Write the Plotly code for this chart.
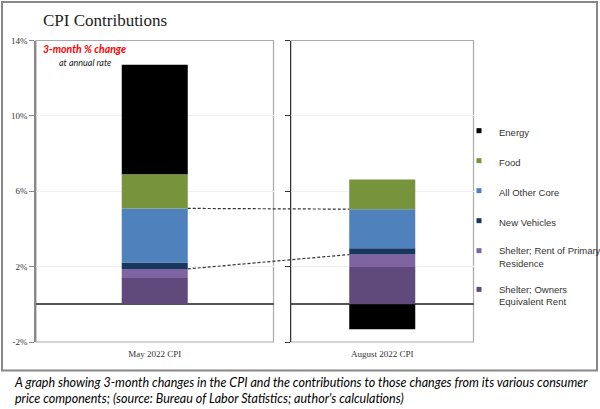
import plotly.graph_objects as go

# ---------------- data ----------------
periods = ["May 2022 CPI", "August 2022 CPI"]
components = [
    "Shelter; Owners Equivalent Rent",
    "Shelter; Rent of Primary Residence",
    "New Vehicles",
    "All Other Core",
    "Food",
    "Energy",
]
legend_labels = [
    "Shelter; Owners<br>Equivalent Rent",
    "Shelter; Rent of Primary<br>Residence",
    "New Vehicles",
    "All Other Core",
    "Food",
    "Energy",
]
colors = ["#604A7B", "#8064A2", "#17375E", "#4F81BD", "#77933C", "#000000"]
may_values = [1.40, 0.48, 0.34, 2.87, 1.81, 5.81]
aug_values = [1.98, 0.66, 0.34, 2.07, 1.58, -1.33]
y_ticks = [-2, 2, 6, 10, 14]
y_tick_labels = ["-2%", "2%", "6%", "10%", "14%"]
connect_idx = [1, 3]  # dashed connectors at top of Rent and top of All Other Core

# ---------------- layout helpers ----------------
W, H = 600, 409
def px_x(p):
    return p / W
def px_y(p):
    return 1 - p / H

left_dom = [px_x(36), px_x(273.5)]
right_dom = [px_x(291), px_x(473.5)]
y_dom = [px_y(342), px_y(40.5)]
bar_px = 66
left_w = bar_px / ((left_dom[1] - left_dom[0]) * W)
right_w = bar_px / ((right_dom[1] - right_dom[0]) * W)

fig = go.Figure()
for i, comp in enumerate(components):
    fig.add_trace(go.Bar(
        x=[periods[0]], y=[may_values[i]], xaxis="x", yaxis="y",
        marker=dict(color=colors[i], line=dict(width=0)), width=left_w,
        name=comp, showlegend=False))
    fig.add_trace(go.Bar(
        x=[periods[1]], y=[aug_values[i]], xaxis="x2", yaxis="y2",
        marker=dict(color=colors[i], line=dict(width=0)), width=right_w,
        name=comp, showlegend=False))

# legend entries (small square markers), Energy on top
for k, i in enumerate(reversed(range(len(components)))):
    fig.add_trace(go.Scatter(
        x=[None], y=[None], xaxis="x", yaxis="y", mode="markers",
        marker=dict(symbol="square", size=5, color=colors[i]),
        name=legend_labels[i], legendgroup=f"g{k}", showlegend=True))

# dashed connectors
def cum_top(vals, idx):
    return sum(v for v in vals[: idx + 1] if v > 0)

x_left_edge = left_dom[0] + (0.5 + left_w / 2) * (left_dom[1] - left_dom[0])
x_right_edge = right_dom[0] + (0.5 - right_w / 2) * (right_dom[1] - right_dom[0])
shapes = []
for idx in connect_idx:
    shapes.append(dict(
        type="line", xref="paper", yref="y",
        x0=x_left_edge, x1=x_right_edge,
        y0=cum_top(may_values, idx), y1=cum_top(aug_values, idx),
        line=dict(color="#333333", width=1.2, dash="3px,2px"), layer="above"))

# panel frames
for xr in ["x", "x2"]:
    shapes.append(dict(type="rect", xref=f"{xr} domain", yref="y domain",
                       x0=0, x1=1, y0=0, y1=1,
                       line=dict(color="#AAAAAA", width=1.2), layer="below"))
# outer frame
shapes.append(dict(type="rect", xref="paper", yref="paper",
                   x0=px_x(2), x1=px_x(597), y0=px_y(370.5), y1=px_y(2),
                   line=dict(color="#888888", width=2)))

axis_common = dict(type="category", range=[-0.5, 0.5], showgrid=False,
                   zeroline=False, showline=False, ticks="", automargin=False,
                   ticklabelstandoff=5,
                   tickfont=dict(family="Liberation Serif", size=9, color="#333333"),
                   fixedrange=True)
yaxis_common = dict(range=[-2, 14], tickvals=y_ticks, domain=y_dom,
                    showgrid=True, gridcolor="#F0F0F0", gridwidth=1,
                    zeroline=True, zerolinecolor="#555555", zerolinewidth=1.5,
                    showline=True, ticks="outside", ticklen=5, automargin=False)

fig.update_layout(
    width=W, height=H, margin=dict(l=0, r=0, t=0, b=0, pad=0, autoexpand=False),
    paper_bgcolor="white", plot_bgcolor="white",
    barmode="relative",
    xaxis=dict(domain=left_dom, anchor="y", **axis_common),
    xaxis2=dict(domain=right_dom, anchor="y2", **axis_common),
    yaxis=dict(anchor="x", ticktext=y_tick_labels, linecolor="#888888",
               linewidth=1.5, tickcolor="#888888", showticklabels=True,
               tickfont=dict(family="Liberation Serif", size=9, color="#333333"),
               **yaxis_common),
    yaxis2=dict(anchor="x2", matches="y", showticklabels=False,
                linecolor="#333333", linewidth=1.2, tickcolor="#333333",
                **yaxis_common),
    shapes=shapes,
    showlegend=True,
    legend=dict(x=px_x(459), y=px_y(118), xanchor="left", yanchor="top",
                traceorder="grouped", tracegroupgap=11, itemwidth=30,
                valign="top",
                font=dict(family="Liberation Sans", size=9.5, color="#333333"),
                bgcolor="rgba(0,0,0,0)"),
    title=dict(text="CPI Contributions", x=px_x(43), xanchor="left",
               y=px_y(20), yanchor="middle",
               font=dict(family="Liberation Serif", size=17, color="#222222")),
    annotations=[
        dict(text="<b><i>3-month % change</i></b>", xref="paper", yref="paper",
             x=px_x(84), y=px_y(49), xanchor="center", yanchor="middle",
             showarrow=False, font=dict(family="Lato", size=10.5, color="#FF0000")),
        dict(text="<i>at annual rate</i>", xref="paper", yref="paper",
             x=px_x(85), y=px_y(62), xanchor="center", yanchor="middle",
             showarrow=False, font=dict(family="Lato", size=9, color="#222222")),
        dict(text="<i>A graph showing 3-month changes in the CPI and the contributions to those changes from its various consumer<br>"
                  "price components; (source: Bureau of Labor Statistics; author's calculations)</i>",
             xref="paper", yref="paper", x=px_x(12), y=px_y(373), xanchor="left",
             yanchor="top", align="left", showarrow=False,
             font=dict(family="Lato", size=12.5, color="#000000")),
    ],
)

fig.write_html("out.html")
